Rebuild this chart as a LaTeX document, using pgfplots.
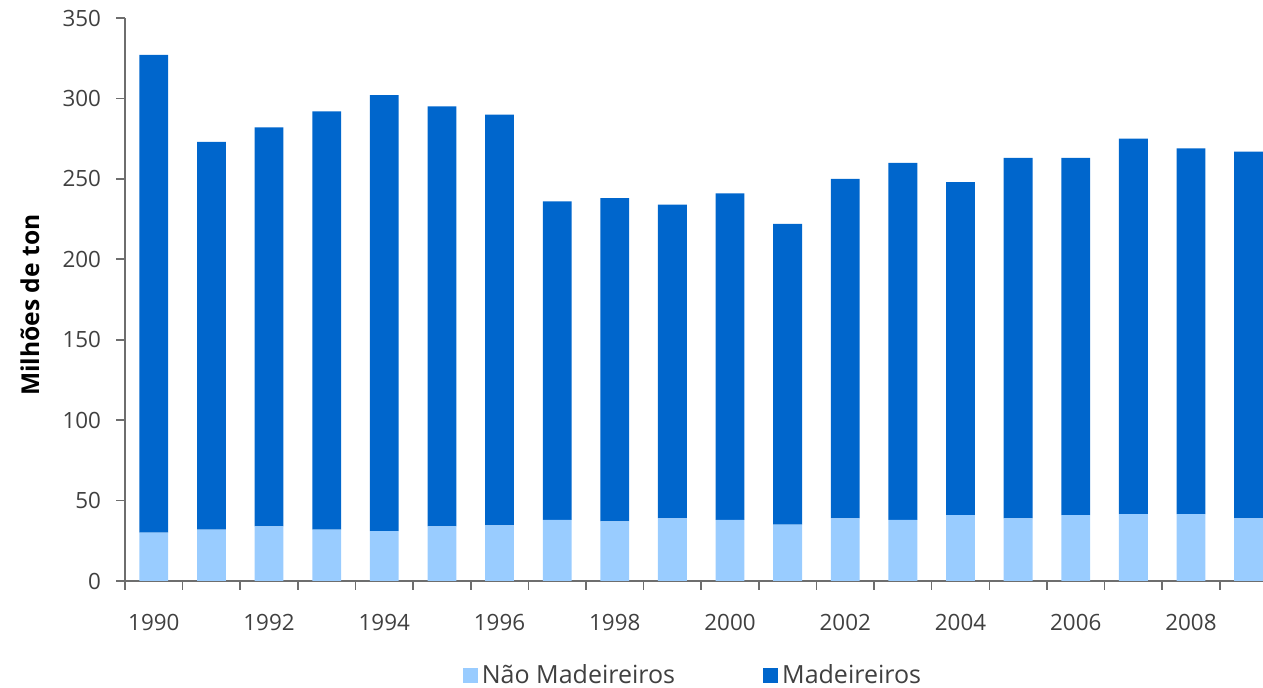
\documentclass[border=0pt]{standalone}
\usepackage{pgfplots}
\pgfplotsset{compat=1.18}
\usepackage{fontspec}
\setmainfont{Open Sans}
\definecolor{darkbar}{RGB}{0,102,204}
\definecolor{lightbar}{RGB}{153,204,255}
\definecolor{txt}{RGB}{64,64,64}
\definecolor{axisgray}{RGB}{110,110,110}

\begin{document}
\begin{tikzpicture}
\useasboundingbox (-62.5pt,-53.5pt) rectangle (569pt,290.5pt);
\begin{axis}[
  at={(0pt,0pt)}, anchor=origin,
  scale only axis,
  width=569pt, height=281.5pt,
  ybar stacked,
  bar width=0.5,
  xmin=1989.5, xmax=2009.25,
  ymin=0, ymax=350,
  ytick={0,50,...,350},
  xtick={1989.5,1990.5,...,2009.5},
  xticklabels={},
  extra x ticks={1990,1992,...,2008},
  extra x tick style={major tick length=0pt},
  /pgf/number format/1000 sep={},
  /pgf/number format/assume math mode=true,
  axis x line=bottom, axis y line=left,
  axis line style={-, axisgray, line width=0.8pt},
  tick style={axisgray, line width=0.8pt},
  tick align=outside,
  major tick length=4.5pt,
  font=\fontsize{11.2}{13}\selectfont,
  tick label style={txt},
  yticklabel style={xshift=-4pt},
  xticklabel style={anchor=base, yshift=-25pt},
  ylabel={\fontsize{12.3}{14}\selectfont\bfseries Milhões de ton},
  ylabel style={at={(axis description cs:-0.0835,0.49)}, anchor=center, black},
  legend columns=2,
  legend style={draw=none, at={(0.5,-0.168)}, anchor=center, text=txt,
    font=\fontsize{12.5}{14}\selectfont,
    /tikz/every even column/.append style={column sep=42pt}},
]
\addplot[fill=lightbar, draw=none, legend image code/.code={\fill[lightbar] (-2pt,-3.75pt) rectangle (5.5pt,3.75pt);}] coordinates {
(1990,30) (1991,32) (1992,34) (1993,32) (1994,31) (1995,34) (1996,34.5) (1997,38) (1998,37) (1999,39)
(2000,38) (2001,35) (2002,39) (2003,38) (2004,41) (2005,39) (2006,41) (2007,41.5) (2008,41.5) (2009,39)};
\addplot[fill=darkbar, draw=none, legend image code/.code={\fill[darkbar] (-2pt,-3.75pt) rectangle (5.5pt,3.75pt);}] coordinates {
(1990,297) (1991,241) (1992,248) (1993,260) (1994,271) (1995,261) (1996,255.5) (1997,198) (1998,201) (1999,195)
(2000,203) (2001,187) (2002,211) (2003,222) (2004,207) (2005,224) (2006,222) (2007,233.5) (2008,227.5) (2009,228)};
\legend{Não Madeireiros, Madeireiros}
\end{axis}
\end{tikzpicture}
\end{document}
